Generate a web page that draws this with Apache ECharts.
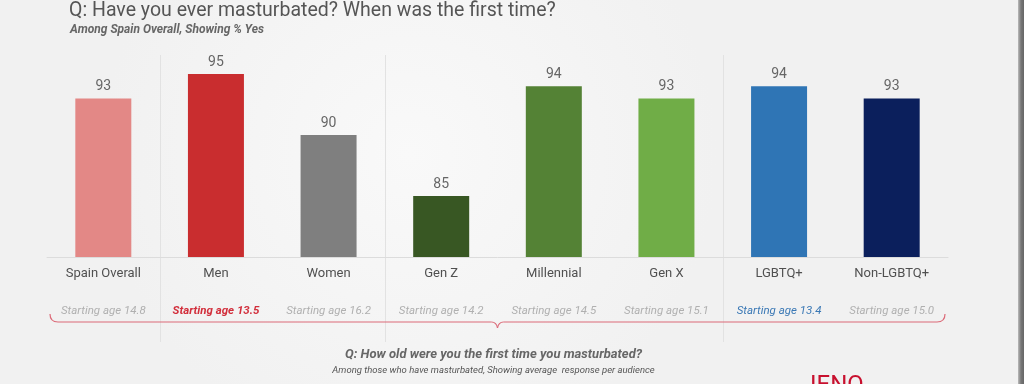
<!DOCTYPE html>
<html><head><meta charset="utf-8">
<script src="https://cdn.jsdelivr.net/npm/echarts@6/dist/echarts.min.js"></script>
<style>html,body{margin:0;padding:0;background:#f3f3f3;}#c{width:1024px;height:384px;}</style>
</head><body><div id="c"></div>
<script>
const categories = ['Spain Overall','Men','Women','Gen Z','Millennial','Gen X','LGBTQ+','Non-LGBTQ+'];
const yesPct = [93, 95, 90, 85, 94, 93, 94, 93];
const startingAge = ['14.8','13.5','16.2','14.2','14.5','15.1','13.4','15.0'];
const barColors = ['#e38886','#c92d2f','#7f7f7f','#385723','#548235','#70ad47','#2f75b5','#0b1f5c'];
const ageStyles = ['age','ageRed','age','age','age','age','ageBlue','age'];
const groupBreaks = [0, 2, 5]; // separator after these category indices

const chart = echarts.init(document.getElementById('c'));
const FONT = 'Roboto';
chart.setOption({
  backgroundColor: {type: 'radial', x: 0.4, y: 0.4, r: 0.8, colorStops: [{offset: 0, color: '#f9f9f9'}, {offset: 1, color: '#f1f1f1'}]},
  animation: false,
  grid: {left: 47, right: 76, top: 13, bottom: 127},
  xAxis: [{
    type: 'category', data: categories,
    axisLine: {lineStyle: {color: '#dcdcdc'}}, axisTick: {show: false},
    axisLabel: {color: '#505050', fontSize: 13, fontFamily: FONT, margin: 10, interval: 0}
  }, {
    type: 'category', data: categories, position: 'bottom', offset: 42,
    axisLine: {show: false}, axisTick: {show: false},
    axisLabel: {
      margin: 6, interval: 0,
      formatter: (v, i) => '{' + ageStyles[i] + '|Starting age ' + startingAge[i] + '}',
      rich: {
        age: {color: '#b0b0b0', fontSize: 11.5, fontStyle: 'italic', fontFamily: FONT},
        ageRed: {color: '#d22f3c', fontSize: 11.5, fontStyle: 'italic', fontFamily: FONT, fontWeight: 'bold'},
        ageBlue: {color: '#3a78b5', fontSize: 11.5, fontStyle: 'italic', fontFamily: FONT}
      }
    }
  }],
  yAxis: {type: 'value', min: 80, max: 100, show: false, splitLine: {show: false}},
  series: [{
    type: 'bar', barWidth: 56,
    data: yesPct.map((v, i) => ({value: v, itemStyle: {color: barColors[i]}})),
    label: {show: true, position: 'top', distance: 5, color: '#666', fontSize: 14, fontFamily: FONT}
  }]
});

const centers = categories.map((c, i) => chart.convertToPixel({xAxisIndex: 0}, c));
const step = centers[1] - centers[0];
const gl = centers[0] - step / 2, gr = centers[centers.length - 1] + step / 2;
const baseY = chart.convertToPixel({yAxisIndex: 0}, 80);
const graphics = [];
groupBreaks.forEach(i => {
  const x = Math.round((centers[i] + centers[i + 1]) / 2) + 0.5;
  graphics.push({type: 'line', shape: {x1: x, y1: 55, x2: x, y2: 342}, style: {stroke: '#e2e2e2', lineWidth: 1}, z: 0});
});
// brace
const by = baseY + 65, bl = gl + 3, br = gr - 3, bm = (gl + gr) / 2;
const bs = {fill: null, stroke: '#dc6a78', lineWidth: 1.2};
graphics.push(
  {type: 'bezierCurve', shape: {x1: bl, y1: by - 8, cpx1: bl, cpy1: by, x2: bl + 8, y2: by}, style: bs},
  {type: 'line', shape: {x1: bl + 8, y1: by, x2: bm - 6, y2: by}, style: bs},
  {type: 'bezierCurve', shape: {x1: bm - 6, y1: by, cpx1: bm - 1, cpy1: by, x2: bm, y2: by + 6}, style: bs},
  {type: 'bezierCurve', shape: {x1: bm + 6, y1: by, cpx1: bm + 1, cpy1: by, x2: bm, y2: by + 6}, style: bs},
  {type: 'line', shape: {x1: bm + 6, y1: by, x2: br - 8, y2: by}, style: bs},
  {type: 'bezierCurve', shape: {x1: br - 8, y1: by, cpx1: br, cpy1: by, x2: br, y2: by - 8}, style: bs}
);
graphics.push(
  {type: 'text', left: 69, top: 1, style: {text: 'Q: Have you ever masturbated? When was the first time?', fill: '#555', fontSize: 19.5, fontFamily: FONT, fontWeight: 'normal'}},
  {type: 'text', left: 70, top: 24, style: {text: 'Among Spain Overall, Showing % Yes', fill: '#666', fontSize: 12, fontFamily: FONT, fontStyle: 'italic', fontWeight: 'bold'}},
  {type: 'text', x: bm - 4, y: 355, style: {text: 'Q: How old were you the first time you masturbated?', fill: '#666', fontSize: 13, fontFamily: FONT, fontStyle: 'italic', fontWeight: 'bold', align: 'center', verticalAlign: 'middle'}},
  {type: 'text', x: bm - 4, y: 371, style: {text: 'Among those who have masturbated, Showing average  response per audience', fill: '#555', fontSize: 9.5, fontFamily: FONT, fontStyle: 'italic', align: 'center', verticalAlign: 'middle'}},
  {type: 'text', x: 810, y: 374, style: {text: 'IENQ', fill: '#c8102e', fontSize: 24, fontFamily: FONT, fontWeight: 'normal'}},
  {type: 'rect', shape: {x: 1018, y: 0, width: 6, height: 384}, style: {fill: {type: 'linear', x: 0, y: 0, x2: 1, y2: 0, colorStops: [{offset: 0, color: '#bbb'}, {offset: 0.5, color: '#777'}, {offset: 1, color: '#666'}]}}}
);
chart.setOption({graphic: graphics});
</script></body></html>
